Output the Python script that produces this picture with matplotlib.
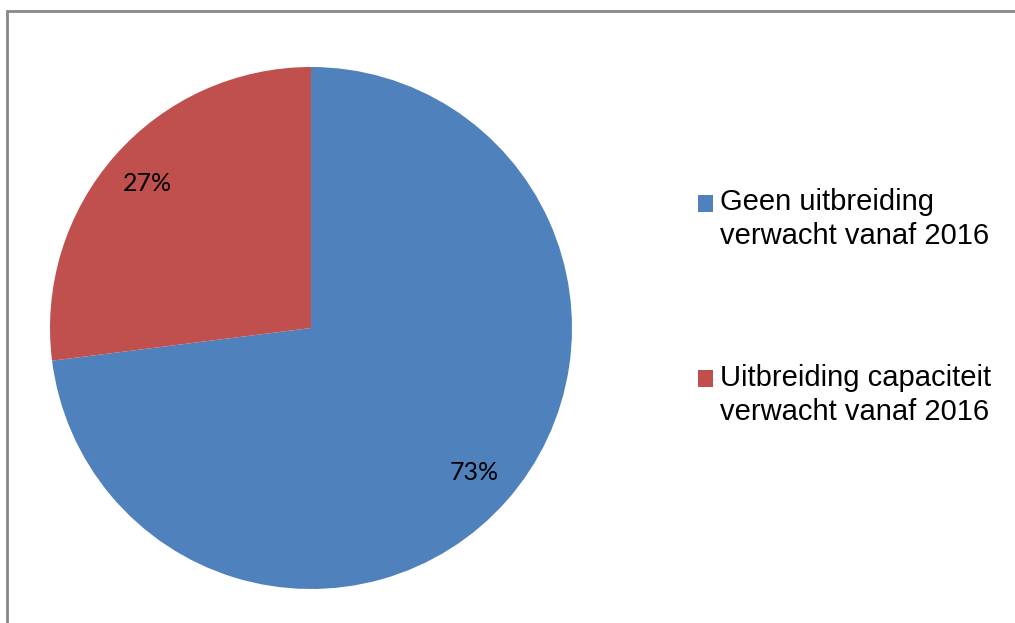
import matplotlib.pyplot as plt
from matplotlib.patches import Rectangle
from matplotlib.legend_handler import HandlerPatch

labels = ["Geen uitbreiding\nverwacht vanaf 2016", "Uitbreiding capaciteit\nverwacht vanaf 2016"]
waarden = [73, 27]
kleuren = ["#4F81BD", "#C0504D"]

W, H = 1015, 623
fig = plt.figure(figsize=(W / 100, H / 100), dpi=100)

# rand van het grafiekgebied (alleen links en boven zichtbaar)
fig.patches.append(Rectangle((6.5 / W, -0.1), 1.2, 1.1 - 11.5 / H, transform=fig.transFigure,
                             fill=False, edgecolor="#878787", linewidth=2))

# taart: middelpunt (311, 328), straal 261 px
cx, cy, r = 311, 328, 261
ax = fig.add_axes([(cx - r) / W, (H - cy - r) / H, 2 * r / W, 2 * r / H])
wedges, _, autotexts = ax.pie(waarden, colors=kleuren, startangle=90, counterclock=False,
                              autopct="%d%%", pctdistance=0.836)
for t in autotexts:
    t.set_fontfamily("Lato")
    t.set_fontsize(18)
    t.set_color("black")
ax.set_xlim(-1, 1)
ax.set_ylim(-1, 1)
ax.set_aspect("equal")
ax.axis("off")


# vierkantje uitlijnen met de eerste tekstregel
def vierkant(legend, orig_handle, xdescent, ydescent, width, height, fontsize):
    return Rectangle((-xdescent, -ydescent + 12.0), width, height)


leg = fig.legend(wedges, labels, loc="upper left", bbox_to_anchor=(698 / W, 1 - 188 / H),
                 frameon=False, prop=dict(family="Liberation Sans", size=21),
                 handlelength=0.52, handleheight=0.52, handletextpad=0.24,
                 labelspacing=3.9, borderpad=0, borderaxespad=0,
                 handler_map={w: HandlerPatch(patch_func=vierkant) for w in wedges})
for t in leg.get_texts():
    t.set_linespacing(1.28)

fig.savefig("out.png", dpi=100)
